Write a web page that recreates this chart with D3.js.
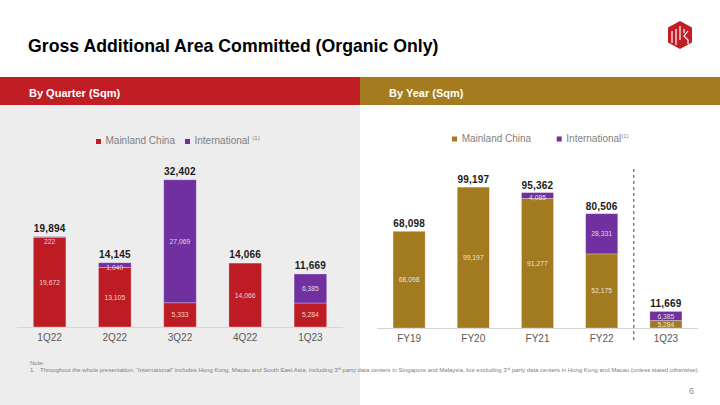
<!DOCTYPE html>
<html><head><meta charset="utf-8">
<script src="https://cdn.jsdelivr.net/npm/d3@7"></script>
<style>
html,body{margin:0;padding:0;background:#fff;}
svg{display:block;font-family:"Liberation Sans",Arial,sans-serif;}
</style></head>
<body><svg id="c" width="720" height="405"></svg>
<script>
const quarters = ["1Q22","2Q22","3Q22","4Q22","1Q23"];
const qMainland = [19672, 13105, 5333, 14066, 5284];
const qIntl = [222, 1040, 27069, 0, 6385];
const years = ["FY19","FY20","FY21","FY22","1Q23"];
const yMainland = [68098, 99197, 91277, 52175, 5284];
const yIntl = [0, 0, 4085, 28331, 6385];
const seriesNames = ["Mainland China","International"];
const title = "Gross Additional Area Committed (Organic Only)";
const noteText = ["Note:", "1.", "Throughout the whole presentation, \u201cInternational\u201d includes Hong Kong, Macau and South East Asia, including 3", "rd", " party data centers in Singapore and Malaysia, but excluding 3", "rd", " party data centers in Hong Kong and Macau (unless stated otherwise)."];

const RED = "#be1c24", GOLD = "#a27a1f", PURPLE = "#7030a0";
const svg = d3.select("#c");
const fmt = d3.format(",");

svg.append("rect").attr("x",0).attr("y",105).attr("width",360).attr("height",300).attr("fill","#ededed");
svg.append("rect").attr("x",0).attr("y",77).attr("width",360).attr("height",28).attr("fill","#c01d25");
svg.append("rect").attr("x",360).attr("y",77).attr("width",360).attr("height",28).attr("fill","#a47b1f");
svg.append("text").attr("x",28).attr("y",52).attr("font-size",17.7).attr("font-weight","bold").attr("fill","#000").text(title);
svg.append("text").attr("x",29).attr("y",97).attr("font-size",11).attr("font-weight","bold").attr("fill","#fff").text("By Quarter (Sqm)");
svg.append("text").attr("x",389).attr("y",97).attr("font-size",11).attr("font-weight","bold").attr("fill","#fff").text("By Year (Sqm)");

const lg = svg.append("g");
lg.append("path").attr("d","M680,21 L692,27.5 L692,42.5 L680,49 L668,42.5 L668,27.5 Z").attr("fill","#c01d25");
lg.append("path").attr("d","M672,31 L672,43 M676,29 L676,45 M680,26 L680,40 M684,29 L684,33 M688,31 L684,36 L688,40 L688,44")
  .attr("stroke","#fff").attr("stroke-width",1.2).attr("fill","none");

function drawChart(cats, main, intl, mainColor, x0, x1, yBase, yTop, yMax, gap) {
  const x = d3.scaleBand().domain(cats).range([x0, x1]).paddingInner(0.5).paddingOuter(0.25);
  const y = d3.scaleLinear().domain([0, yMax]).range([yBase, yTop]);
  const rows = cats.map((c,i)=>({cat:c, m:main[i], n:intl[i], t:main[i]+intl[i]}));
  const g = svg.append("g");
  g.append("line").attr("x1",x0).attr("x2",x1).attr("y1",yBase+0.5).attr("y2",yBase+0.5).attr("stroke","#d6d6d6").attr("stroke-width",1);
  g.selectAll(".m").data(rows).join("rect")
    .attr("x",d=>x(d.cat)).attr("width",x.bandwidth())
    .attr("y",d=>y(d.m)).attr("height",d=>y(0)-y(d.m))
    .attr("fill",mainColor).attr("stroke","rgba(255,255,255,0.35)").attr("stroke-width",0.8);
  g.selectAll(".n").data(rows.filter(d=>d.n>0)).join("rect")
    .attr("x",d=>x(d.cat)).attr("width",x.bandwidth())
    .attr("y",d=>y(d.t)).attr("height",d=>Math.max(1,y(d.m)-y(d.t)))
    .attr("fill",PURPLE).attr("stroke","rgba(255,255,255,0.35)").attr("stroke-width",0.8);
  g.selectAll(".ml").data(rows).join("text")
    .attr("x",d=>x(d.cat)+x.bandwidth()/2).attr("y",d=>(y(d.m)+y(0))/2+2.5)
    .attr("text-anchor","middle").attr("font-size",6.8).attr("fill","rgba(255,255,255,0.8)").text(d=>fmt(d.m));
  g.selectAll(".nl").data(rows.filter(d=>d.n>0)).join("text")
    .attr("x",d=>x(d.cat)+x.bandwidth()/2).attr("y",d=>Math.max((y(d.m)+y(d.t))/2, y(d.t)+5)+2.5)
    .attr("text-anchor","middle").attr("font-size",6.8).attr("fill","rgba(255,255,255,0.8)").text(d=>fmt(d.n));
  g.selectAll(".tl").data(rows).join("text")
    .attr("x",d=>x(d.cat)+x.bandwidth()/2).attr("y",d=>y(d.t)-gap)
    .attr("text-anchor","middle").attr("font-size",10).attr("font-weight","bold").attr("letter-spacing",0.2).attr("fill","#1a1a1a").text(d=>fmt(d.t));
  g.selectAll(".xl").data(cats).join("text")
    .attr("x",d=>x(d)+x.bandwidth()/2).attr("y",yBase+14)
    .attr("text-anchor","middle").attr("font-size",10).attr("fill","#595959").text(d=>d);
  return {x,y};
}

drawChart(quarters, qMainland, qIntl, RED, 17, 343, 327, 168, 35000, 5);
const r = drawChart(years, yMainland, yIntl, GOLD, 377, 698, 328, 171.8, 110000, 4);

const sx = r.x("FY22") + r.x.step() - (r.x.step()-r.x.bandwidth())/2;
svg.append("line").attr("x1",sx).attr("x2",sx).attr("y1",169).attr("y2",340)
  .attr("stroke","#404040").attr("stroke-width",1).attr("stroke-dasharray","3,3");

function legend(items) {
  items.forEach(it=>{
    svg.append("rect").attr("x",it.sx).attr("y",it.sy).attr("width",5).attr("height",5).attr("fill",it.color);
    const t = svg.append("text").attr("x",it.tx).attr("y",it.ty).attr("font-size",10).attr("fill","#7f7f7f");
    t.append("tspan").text(it.label);
    if (it.sup) t.append("tspan").attr("font-size",6).attr("dy",-4).text(it.sup);
  });
}
legend([
  {sx:96,sy:139,color:RED,tx:105.5,ty:144,label:seriesNames[0]},
  {sx:185,sy:139,color:PURPLE,tx:194.5,ty:144,label:seriesNames[1]+" ",sup:"(1)"},
  {sx:452,sy:136.5,color:GOLD,tx:461.7,ty:141.5,label:seriesNames[0]},
  {sx:556.7,sy:136.5,color:PURPLE,tx:566.3,ty:141.5,label:seriesNames[1],sup:"(1)"}
]);

svg.append("text").attr("x",30).attr("y",365).attr("font-size",6).attr("fill","#808080").text(noteText[0]);
svg.append("text").attr("x",30).attr("y",372).attr("font-size",6).attr("fill","#808080").text(noteText[1]);
const nt = svg.append("text").attr("x",40).attr("y",372).attr("font-size",6).attr("fill","#808080");
nt.append("tspan").text(noteText[2]);
nt.append("tspan").attr("font-size",3.8).attr("dy",-2).text(noteText[3]);
nt.append("tspan").attr("dy",2).text(noteText[4]);
nt.append("tspan").attr("font-size",3.8).attr("dy",-2).text(noteText[5]);
nt.append("tspan").attr("dy",2).text(noteText[6]);

svg.append("text").attr("x",689).attr("y",394).attr("font-size",9).attr("fill","#8c8c8c").text("6");
</script></body></html>
